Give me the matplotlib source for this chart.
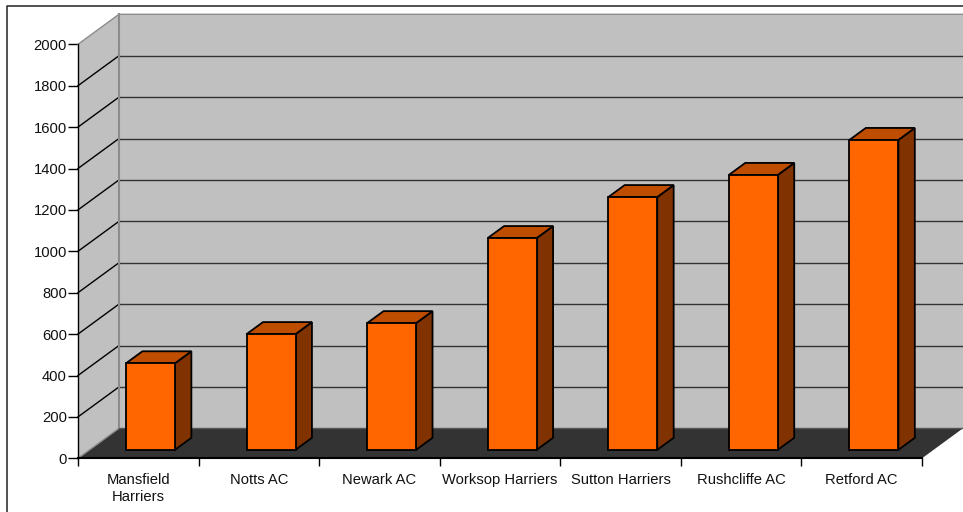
import matplotlib
matplotlib.use('Agg')
import matplotlib.pyplot as plt
from matplotlib.patches import Polygon

plt.rcParams['font.family'] = ['Liberation Sans', 'DejaVu Sans']

# club totals
clubs = ['Mansfield\nHarriers', 'Notts AC', 'Newark AC', 'Worksop Harriers',
         'Sutton Harriers', 'Rushcliffe AC', 'Retford AC']
totals = [418, 559, 612, 1023, 1221, 1328, 1497]
y_ticks = list(range(0, 2001, 200))

W, H = 963, 512
fig = plt.figure(figsize=(W / 100, H / 100), dpi=100)
left, right, bottom, top = 78, 922, 458.3, 44.3
ax = fig.add_axes([left / W, 1 - bottom / H, (right - left) / W, (bottom - top) / H])
ax.set_xlim(0, len(clubs))
ax.set_ylim(0, 2000)

# depth of the 3d box, in data units
px_x = (right - left) / len(clubs)
px_y = (bottom - top) / 2000
depth_x = 41 / px_x
depth_y = 30 / px_y
n = len(clubs)


def shift(x, y, d):
    # move a point on the front plane back by fraction d of the box depth
    return x + d * depth_x, y + d * depth_y


def face(points, **kw):
    ax.add_patch(Polygon(points, closed=True, clip_on=False, **kw))


wall = '#c0c0c0'
edge = '#8c8c8c'

# side wall, back wall, floor
face([shift(0, 0, 0), shift(0, 0, 1), shift(0, 2000, 1), shift(0, 2000, 0)],
     facecolor=wall, edgecolor='none', zorder=1)
face([shift(0, 0, 1), shift(n, 0, 1), shift(n, 2000, 1), shift(0, 2000, 1)],
     facecolor=wall, edgecolor='none', zorder=1)
face([shift(0, 0, 0), shift(n, 0, 0), shift(n, 0, 1), shift(0, 0, 1)],
     facecolor='#333333', edgecolor='none', zorder=2)

# gridlines
for v in y_ticks[1:-1]:
    x0, y0 = shift(0, v, 1)
    x1, y1 = shift(n, v, 1)
    ax.plot([0, x0], [v, y0], color='black', lw=1, clip_on=False, zorder=2)
    ax.plot([x0, x1], [y0, y1], color='#333333', lw=1, clip_on=False, zorder=2)

# grey outline of the walls
x0, y0 = shift(0, 2000, 1)
x1, y1 = shift(n, 2000, 1)
ax.plot([0, x0, x1], [2000, y0, y1], color=edge, lw=1, clip_on=False, zorder=3)
xb, yb = shift(0, 0, 1)
ax.plot([x0, xb], [y0, yb], color=edge, lw=1.5, clip_on=False, zorder=3)
ax.plot([0, xb], [0, yb], color=edge, lw=1, clip_on=False, zorder=2)
x2, y2 = shift(n, 0, 1)
ax.plot([xb, x2], [yb, y2], color='#555555', lw=1, clip_on=False, zorder=3)

# bars
bar_l, bar_r = 0.302, 0.708
d0, d1 = 0.283, 0.683
for i, v in enumerate(totals):
    xl, xr = i + bar_l, i + bar_r
    style = dict(edgecolor='black', lw=1.3, zorder=5, joinstyle='miter')
    face([shift(xr, 0, d0), shift(xr, 0, d1), shift(xr, v, d1), shift(xr, v, d0)],
         facecolor='#803300', **style)
    face([shift(xl, v, d0), shift(xr, v, d0), shift(xr, v, d1), shift(xl, v, d1)],
         facecolor='#bf4d00', **style)
    face([shift(xl, 0, d0), shift(xr, 0, d0), shift(xr, v, d0), shift(xl, v, d0)],
         facecolor='#ff6600', **style)

# axes
for s in ['top', 'right']:
    ax.spines[s].set_visible(False)
ax.patch.set_visible(False)
ax.spines['left'].set_linewidth(1)
ax.spines['bottom'].set_linewidth(1.5)
ax.spines['left'].set_zorder(6)
ax.spines['bottom'].set_zorder(6)
ax.set_yticks(y_ticks)
ax.set_xticks(range(n + 1))
ax.set_xticklabels([])
ax.set_xticks([i + 0.5 for i in range(n)], minor=True)
ax.set_xticklabels(clubs, minor=True, linespacing=1.33)
ax.tick_params(axis='x', which='major', length=6, width=1, color='black')
ax.tick_params(axis='x', which='minor', length=0, pad=10.3, labelsize=10.6, labelcolor='#111111')
ax.tick_params(axis='y', length=7, width=1, pad=1, labelsize=10.6, labelcolor='#111111')

# outer frame
fig.add_artist(plt.Line2D([6.5 / W, 6.5 / W, 1], [0, 1 - 5.5 / H, 1 - 5.5 / H],
                          color='#222222', lw=1.1))

fig.savefig('out.png', dpi=100)
